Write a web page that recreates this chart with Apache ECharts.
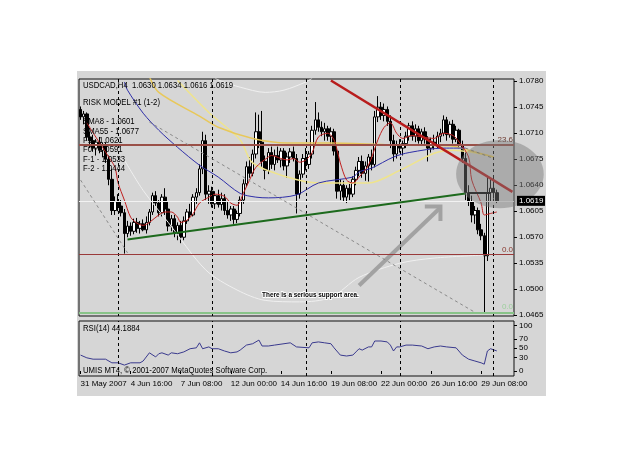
<!DOCTYPE html>
<html>
<head>
<meta charset="utf-8">
<script src="https://cdn.jsdelivr.net/npm/echarts@6/dist/echarts.min.js"></script>
<style>
  html, body { margin: 0; background: #fff; }
  #chart { width: 625px; height: 469px; }
</style>
</head>
<body>
<div id="chart"></div>
<script>
// H4 bars, 31 May 2007 00:00 onwards
const timeLabels = ['31 May 2007', '4 Jun 16:00', '7 Jun 08:00', '12 Jun 00:00', '14 Jun 16:00',
  '19 Jun 08:00', '22 Jun 00:00', '26 Jun 16:00', '29 Jun 08:00'];
const weekStarts = [12, 42, 72, 102, 132];

const opens = [1.0742,1.0732,1.0736,1.0705,1.0700,1.0690,1.0698,1.0687,1.0693,1.0675,
  1.0648,1.0606,1.0618,1.0612,1.0603,1.0575,1.0585,1.0578,1.0590,1.0582,
  1.0588,1.0580,1.0590,1.0604,1.0626,1.0616,1.0603,1.0624,1.0608,1.0585,
  1.0595,1.0575,1.0586,1.0570,1.0592,1.0604,1.0600,1.0624,1.0630,1.0662,
  1.0700,1.0628,1.0632,1.0615,1.0626,1.0614,1.0622,1.0606,1.0600,1.0608,
  1.0594,1.0602,1.0620,1.0642,1.0665,1.0656,1.0682,1.0712,1.0698,1.0672,
  1.0660,1.0684,1.0668,1.0680,1.0674,1.0686,1.0666,1.0678,1.0685,1.0676,
  1.0628,1.0655,1.0676,1.0668,1.0682,1.0714,1.0728,1.0718,1.0712,1.0716,
  1.0706,1.0712,1.0686,1.0632,1.0640,1.0624,1.0636,1.0628,1.0648,1.0660,
  1.0672,1.0656,1.0666,1.0678,1.0668,1.0732,1.0745,1.0734,1.0742,1.0726,
  1.0700,1.0682,1.0694,1.0690,1.0696,1.0706,1.0720,1.0706,1.0716,1.0700,
  1.0712,1.0702,1.0690,1.0698,1.0694,1.0706,1.0710,1.0728,1.0708,1.0722,
  1.0702,1.0714,1.0694,1.0676,1.0630,1.0618,1.0600,1.0606,1.0580,1.0572,
  1.0545,1.0630,1.0636,1.0630];
const highs = [1.0746,1.0740,1.0738,1.0712,1.0708,1.0702,1.0705,1.0697,1.0698,1.0680,
  1.0662,1.0625,1.0628,1.0620,1.0608,1.0592,1.0590,1.0595,1.0596,1.0592,
  1.0594,1.0598,1.0608,1.0630,1.0632,1.0620,1.0628,1.0636,1.0618,1.0600,
  1.0600,1.0590,1.0592,1.0598,1.0608,1.0615,1.0628,1.0636,1.0668,1.0712,
  1.0708,1.0640,1.0638,1.0632,1.0634,1.0630,1.0628,1.0618,1.0612,1.0612,
  1.0606,1.0625,1.0648,1.0672,1.0678,1.0688,1.0738,1.0735,1.0740,1.0680,
  1.0690,1.0692,1.0688,1.0692,1.0690,1.0690,1.0684,1.0690,1.0692,1.0682,
  1.0660,1.0682,1.0690,1.0686,1.0720,1.0752,1.0738,1.0726,1.0724,1.0720,
  1.0718,1.0716,1.0692,1.0648,1.0646,1.0640,1.0642,1.0652,1.0665,1.0678,
  1.0680,1.0672,1.0682,1.0688,1.0740,1.0760,1.0752,1.0750,1.0746,1.0734,
  1.0708,1.0700,1.0702,1.0700,1.0712,1.0724,1.0726,1.0722,1.0720,1.0716,
  1.0718,1.0706,1.0704,1.0708,1.0712,1.0716,1.0734,1.0732,1.0726,1.0728,
  1.0720,1.0716,1.0700,1.0684,1.0640,1.0626,1.0612,1.0610,1.0588,1.0576,
  1.0651,1.0648,1.0650,1.0634];
const lows = [1.0728,1.0722,1.0700,1.0690,1.0685,1.0680,1.0683,1.0678,1.0670,1.0640,
  1.0600,1.0600,1.0605,1.0598,1.0548,1.0570,1.0572,1.0574,1.0576,1.0575,
  1.0578,1.0575,1.0586,1.0600,1.0612,1.0598,1.0598,1.0600,1.0578,1.0578,
  1.0570,1.0566,1.0562,1.0566,1.0588,1.0596,1.0598,1.0615,1.0626,1.0655,
  1.0620,1.0615,1.0610,1.0608,1.0610,1.0606,1.0600,1.0595,1.0592,1.0588,
  1.0589,1.0598,1.0615,1.0638,1.0650,1.0652,1.0676,1.0690,1.0665,1.0648,
  1.0655,1.0662,1.0660,1.0670,1.0664,1.0660,1.0650,1.0670,1.0672,1.0602,
  1.0622,1.0650,1.0660,1.0662,1.0676,1.0708,1.0712,1.0706,1.0700,1.0700,
  1.0696,1.0680,1.0622,1.0620,1.0618,1.0616,1.0620,1.0624,1.0640,1.0652,
  1.0650,1.0646,1.0645,1.0660,1.0664,1.0725,1.0728,1.0726,1.0720,1.0690,
  1.0672,1.0676,1.0684,1.0680,1.0690,1.0700,1.0700,1.0698,1.0696,1.0694,
  1.0696,1.0672,1.0684,1.0688,1.0690,1.0698,1.0706,1.0700,1.0704,1.0696,
  1.0698,1.0690,1.0670,1.0620,1.0612,1.0590,1.0588,1.0574,1.0566,1.0469,
  1.0538,1.0618,1.0622,1.0616];
const closes = [1.0732,1.0736,1.0705,1.0700,1.0690,1.0698,1.0687,1.0693,1.0675,1.0648,
  1.0606,1.0618,1.0612,1.0603,1.0575,1.0585,1.0578,1.0590,1.0582,1.0588,
  1.0580,1.0590,1.0604,1.0626,1.0616,1.0603,1.0624,1.0608,1.0585,1.0595,
  1.0575,1.0586,1.0570,1.0592,1.0604,1.0600,1.0624,1.0630,1.0662,1.0700,
  1.0628,1.0632,1.0615,1.0626,1.0614,1.0622,1.0606,1.0600,1.0608,1.0594,
  1.0602,1.0620,1.0642,1.0665,1.0656,1.0682,1.0712,1.0698,1.0672,1.0660,
  1.0684,1.0668,1.0680,1.0674,1.0686,1.0666,1.0678,1.0685,1.0676,1.0628,
  1.0655,1.0676,1.0668,1.0682,1.0714,1.0728,1.0718,1.0712,1.0716,1.0706,
  1.0712,1.0686,1.0632,1.0640,1.0624,1.0636,1.0628,1.0648,1.0660,1.0672,
  1.0656,1.0666,1.0678,1.0668,1.0732,1.0745,1.0734,1.0742,1.0726,1.0700,
  1.0682,1.0694,1.0690,1.0696,1.0706,1.0720,1.0706,1.0716,1.0700,1.0712,
  1.0702,1.0690,1.0698,1.0694,1.0706,1.0710,1.0728,1.0708,1.0722,1.0702,
  1.0714,1.0694,1.0676,1.0630,1.0618,1.0600,1.0606,1.0580,1.0572,1.0545,
  1.0630,1.0636,1.0630,1.0619];

// indicator lines: [bar, price]
const sma8 = [[2,1.0724],[5,1.0704],[9,1.0678],[11,1.0664],[12,1.0643],[14,1.0620],[16,1.0597],
  [18,1.0589],[20,1.0586],[22,1.0590],[25,1.0600],[27,1.0604],[29,1.0604],[31,1.0597],[32,1.0590],
  [34,1.0593],[36,1.0602],[38,1.0616],[41,1.0624],[43,1.0628],[46,1.0625],[48,1.0616],[50,1.0613],
  [52,1.0629],[54,1.0647],[56,1.0664],[60,1.0678],[61,1.0680],[64,1.0676],[66,1.0674],[68,1.0676],
  [70,1.0671],[72,1.0674],[74,1.0684],[76,1.0705],[79,1.0710],[81,1.0701],[82,1.0687],[83,1.0670],
  [85,1.0647],[87,1.0643],[89,1.0651],[92,1.0667],[95,1.0701],[97,1.0718],[99,1.0724],[101,1.0710],
  [103,1.0703],[106,1.0707],[109,1.0705],[113,1.0703],[116,1.0710],[119,1.0707],[121,1.0698],
  [124,1.0678],[125,1.0647],[128,1.0616],[129,1.0600],[131,1.0602],[133,1.0604]];
const sma55 = [[14,1.0779],[15,1.0768],[20,1.0737],[25,1.0714],[31,1.0691],[38,1.0667],[44,1.0651],
  [51,1.0629],[56,1.0624],[60,1.0623],[69,1.0627],[76,1.0643],[87,1.0651],[89,1.0658],[93,1.0663],
  [100,1.0678],[105,1.0684],[116,1.0690],[123,1.0690]];
const slowUpper = [[22,1.0786],[25,1.0765],[38,1.0733],[44,1.0718],[55,1.0703],[66,1.0697],
  [80,1.0697],[102,1.0694],[118,1.0693],[124,1.0687],[132,1.0678]];
const slowLower = [[31,1.0781],[41,1.0738],[51,1.0701],[55,1.0670],[66,1.0651],[76,1.0643],
  [92,1.0643],[102,1.0660],[113,1.0683],[119,1.0687],[132,1.0678]];
const bandUpper = [[43,1.0784],[45,1.0780],[51,1.0772],[59,1.0765],[65,1.0768],[72,1.0779],[74,1.0784]];
const bandLower = [[14,1.0674],[20,1.0633],[28,1.0590],[40,1.0526],[50,1.0499],[59,1.0485],
  [70,1.0483],[80,1.0489],[89,1.0516],[102,1.0535],[113,1.0542],[129,1.0546]];

const rsi14 = [[0,35],[2,29],[4,26],[8,26],[10,18],[12,18],[14,13],[16,18],[19,18],[20,22],
  [22,40],[24,31],[25,38],[26,40],[28,35],[29,40],[31,38],[33,42],[35,49],[37,51],[38,62],
  [39,49],[41,53],[42,49],[44,49],[46,44],[48,40],[50,42],[51,46],[53,57],[55,60],[57,68],
  [58,55],[60,55],[62,57],[67,62],[69,53],[73,51],[74,62],[76,64],[78,62],[80,60],[81,51],
  [83,35],[85,33],[87,35],[88,42],[89,49],[90,46],[92,53],[93,53],[94,66],[96,66],[98,64],
  [99,57],[100,44],[101,53],[102,53],[104,57],[106,57],[109,55],[111,49],[113,53],[115,55],
  [117,53],[120,51],[122,35],[124,26],[126,22],[128,18],[129,15],[130,44],[131,49],[133,44.19]];

const priceTicks = [1.0465,1.0500,1.0535,1.0570,1.0605,1.0640,1.0675,1.0710,1.0745,1.0780];
const rsiTicks = [0, 30, 50, 70, 100];
const lastPrice = 1.0619;
const fib236 = 1.0694;
const fibZero = 1.0547;
const fibZeroGreen = 1.0469;

const FONT = "'Liberation Sans', Arial, sans-serif";
const barCount = 139;
const categories = Array.from({ length: barCount }, (_, i) => String(i));
const candles = opens.map((o, i) => [o, closes[i], lows[i], highs[i]]);

const chart = echarts.init(document.getElementById('chart'));

function overlay(data, color, width) {
  return {
    type: 'line', data, xAxisIndex: 0, yAxisIndex: 0, symbol: 'none', smooth: 0.3,
    silent: true, lineStyle: { color, width }, z: 3
  };
}
function seg(a, b, color, width, type) {
  return [{ coord: a, lineStyle: { color, width, type: type || 'solid' } }, { coord: b }];
}
const sepStyle = { color: '#000', width: 1, type: [3, 3] };
const labelBars = (i) => i % 16 === 0 && i <= 128;

chart.setOption({
  animation: false,
  textStyle: { fontFamily: FONT },
  grid: [
    { left: 79, top: 79, width: 435, height: 237, show: true, backgroundColor: '#d6d6d6', borderColor: '#111', borderWidth: 1 },
    { left: 79, top: 321, width: 435, height: 55, show: true, backgroundColor: '#d6d6d6', borderColor: '#111', borderWidth: 1 }
  ],
  xAxis: [
    { type: 'category', gridIndex: 0, data: categories, axisLine: { show: false }, axisTick: { show: false }, axisLabel: { show: false } },
    {
      type: 'category', gridIndex: 1, data: categories, axisLine: { show: false },
      axisTick: { show: true, alignWithLabel: true, interval: labelBars, length: 3, lineStyle: { color: '#000' } },
      axisLabel: {
        interval: labelBars, align: 'left', margin: 4, hideOverlap: false, showMinLabel: true,
        fontSize: 8, color: '#000', formatter: (v, i) => timeLabels[i / 16]
      }
    }
  ],
  yAxis: [
    {
      type: 'value', gridIndex: 0, position: 'right', min: 1.0464, max: 1.0783, splitLine: { show: false },
      axisLine: { show: false },
      axisTick: { show: true, customValues: priceTicks, length: 3, lineStyle: { color: '#000' } },
      axisLabel: { customValues: priceTicks, fontSize: 8, color: '#000', margin: 5, formatter: (v) => v.toFixed(4) }
    },
    {
      type: 'value', gridIndex: 1, position: 'right', min: -11, max: 110, splitLine: { show: false },
      axisLine: { show: false },
      axisTick: { show: true, customValues: rsiTicks, length: 3, lineStyle: { color: '#000' } },
      axisLabel: { customValues: rsiTicks, fontSize: 8, color: '#000', margin: 5 }
    }
  ],
  series: [
    {
      type: 'candlestick', xAxisIndex: 0, yAxisIndex: 0, data: candles, barWidth: 3, silent: true,
      itemStyle: { color: '#ffffff', color0: '#000000', borderColor: '#000000', borderColor0: '#000000', borderWidth: 1 },
      markLine: {
        silent: true, precision: 5, symbol: ['none', 'none'], label: { show: false },
        data: [
          ...weekStarts.map((i) => ({ xAxis: i, lineStyle: sepStyle })),
          { yAxis: lastPrice, lineStyle: { color: '#f2f2f2', width: 1, type: 'solid' } },
          { yAxis: fib236, lineStyle: { color: '#9a5048', width: 2, type: 'solid' },
            label: { show: true, formatter: '23.6', position: 'insideEndTop', color: '#6e3a30', fontSize: 8, distance: 1 } },
          { yAxis: fibZero, lineStyle: { color: '#9a3a3a', width: 1, type: 'solid' },
            label: { show: true, formatter: '0.0', position: 'insideEndTop', color: '#8a3a30', fontSize: 8, distance: 1 } },
          { yAxis: fibZeroGreen, lineStyle: { color: '#88c488', width: 2, type: 'solid' },
            label: { show: true, formatter: '0.0', position: 'insideEndTop', color: '#9ccf9c', fontSize: 8, distance: 1 } },
          seg([0, 1.0647], [15, 1.0549], '#8a8a8a', 1, [3, 3]),
          seg([22, 1.0725], [126, 1.0469], '#8a8a8a', 1, [3, 3]),
          seg([123, 1.0690], [132, 1.0676], '#7a7a7a', 1, [3, 3]),
          seg([15, 1.0567], [123, 1.0629], '#1d6a1d', 2),
          seg([80, 1.0781], [138, 1.0631], '#b81c1c', 2.5),
          seg([124, 1.0630], [131, 1.0630], '#000000', 2)
        ]
      }
    },
    overlay(bandUpper, '#f0f0f0', 1),
    overlay(bandLower, '#f0f0f0', 1),
    overlay(slowLower, '#efe48c', 1.5),
    overlay(slowUpper, '#e8c85a', 1.5),
    overlay(sma55, '#2e2ea8', 1),
    overlay(sma8, '#c02020', 1),
    {
      type: 'line', xAxisIndex: 0, yAxisIndex: 0, symbol: 'none', silent: true, z: 4,
      data: [[89, 1.0505], [115, 1.0610]], lineStyle: { color: '#a2a2a2', width: 4 }
    },
    {
      type: 'line', xAxisIndex: 0, yAxisIndex: 0, symbol: 'none', silent: true, z: 4,
      data: [[110, 1.06115], [115, 1.06115], [115, 1.0592]], lineStyle: { color: '#a2a2a2', width: 4, join: 'miter' }
    },
    {
      type: 'line', xAxisIndex: 1, yAxisIndex: 1, data: rsi14, symbol: 'none', silent: true,
      lineStyle: { color: '#3a3a8e', width: 1 },
      markLine: {
        silent: true, symbol: ['none', 'none'], label: { show: false },
        data: weekStarts.map((i) => ({ xAxis: i, lineStyle: sepStyle }))
      }
    }
  ]
});

// annotations placed through the axes
const px = (pt) => chart.convertToPixel({ xAxisIndex: 0, yAxisIndex: 0 }, pt);
const c = px([134, 1.0655]);
const r = px([120, 1.0609]);
const bid = px([0, lastPrice]);
const note = px([58, 1.0492]);
const txt = (x, y, s, font, fill) => ({
  type: 'text', x, y, z: 20, scaleX: 0.86, originX: 0,
  style: { text: s, fill: fill || '#000', font: font || ('9px ' + FONT), textVerticalAlign: 'middle' }
});
const noteText = txt(note[0], note[1], 'There is a serious support area.', 'bold 8px ' + FONT);
noteText.style.stroke = '#fff';
noteText.style.lineWidth = 2;
noteText.scaleX = 0.8;

chart.setOption({
  graphic: [
    { type: 'rect', z: -10, shape: { x: 77, y: 71, width: 469, height: 325 }, style: { fill: '#d6d6d6' } },
    { type: 'ellipse', z: 10, shape: { cx: c[0], cy: c[1], rx: c[0] - r[0], ry: r[1] - c[1] },
      style: { fill: 'rgba(120,120,120,0.45)' } },
    { type: 'rect', z: 21, shape: { x: 517, y: bid[1] - 5, width: 28, height: 10 }, style: { fill: '#000' } },
    Object.assign(txt(519, bid[1], lastPrice.toFixed(4), '8px ' + FONT, '#fff'), { z: 22, scaleX: 1 }),
    noteText,
    txt(83, 86, 'USDCAD,H4  1.0630 1.0634 1.0616 1.0619'),
    txt(83, 103, 'RISK MODEL #1 (1-2)'),
    txt(83, 122, 'SMA8 - 1.0601'),
    txt(83, 132, 'SMA55 - 1.0677'),
    txt(83, 141, 'F1 - 1.0621'),
    txt(83, 150, 'F0 - 1.0591'),
    txt(83, 160, 'F-1 - 1.0533'),
    txt(83, 169, 'F-2 - 1.0444'),
    txt(83, 329, 'RSI(14) 44.1884'),
    txt(83, 371, 'UMIS MT4, \u00a9 2001-2007 MetaQuotes Software Corp.')
  ]
});
</script>
</body>
</html>
